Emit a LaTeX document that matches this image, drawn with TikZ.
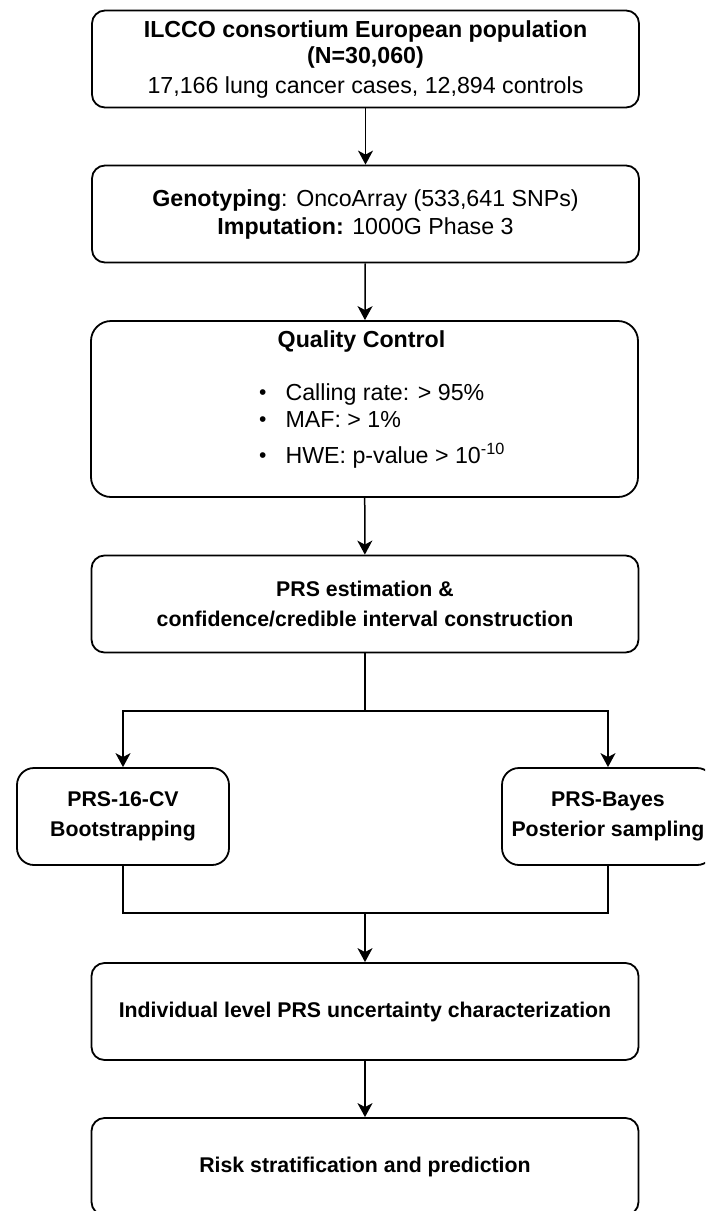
\documentclass[tikz,border=0pt]{standalone}
\usepackage{fontspec}
\setmainfont{Liberation Sans}
\usetikzlibrary{arrows.meta}

\newcommand{\dotitem}{\raisebox{0.5pt}{\fontsize{21}{21}\selectfont\textbullet}}

\tikzset{
  box/.style={draw, line width=1.8pt, rounded corners=13pt, minimum width=547pt,
    minimum height=97pt, align=center, inner sep=0pt},
  sidebox/.style={box, minimum width=212pt, rounded corners=17pt},
  big/.style={font=\fontsize{23.2}{27}\selectfont},
  bigbold/.style={font=\fontsize{23.2}{27}\selectfont\bfseries},
  mid/.style={font=\fontsize{21.3}{30}\selectfont\bfseries},
  arr/.style={-{Stealth[length=14pt,width=15pt,inset=4pt]}, line width=1.5pt},
  link/.style={line width=1.5pt},
}

\begin{document}
\begin{tikzpicture}[x=1pt, y=-1pt]
  \useasboundingbox (0,0) rectangle (705,1211);
  \clip (0,0) rectangle (705,1211);

  % main column
  \node[box, font=\fontsize{23.2}{26}\selectfont] (cohort) at (365.5,59)
    {\textbf{ILCCO consortium European population}\\
     \textbf{(N=30,060)}\\[4pt]
     17,166 lung cancer cases, 12,894 controls};
  \node[box, font=\fontsize{23.2}{28}\selectfont] (geno) at (365.5,214)
    {\textbf{Genotyping}: OncoArray (533,641 SNPs)\\
     \textbf{Imputation:} 1000G Phase 3};
  \node[box, minimum height=176pt, rounded corners=20pt] (qc) at (364.5,409) {};
  \node[bigbold, anchor=base] (qctitle) at (361.5,347) {Quality Control};
  \node[big, anchor=base west, inner sep=0pt] (qclist) at (259,400)
    {\begin{tabular}[t]{@{}l@{\hspace{19pt}}l@{}}
       \dotitem & Calling rate: > 95\% \\
       \dotitem & MAF: > 1\% \\[8pt]
       \dotitem & HWE: p-value > 10\textsuperscript{-10}
     \end{tabular}};
  \node[box, mid] (prs) at (365,604)
    {PRS estimation \&\\ confidence/credible interval construction};

  % two branches
  \node[sidebox, mid] (cv) at (123,816.5) {PRS-16-CV\\ Bootstrapping};
  \node[sidebox, mid] (bayes) at (608,816.5) {PRS-Bayes\\ Posterior sampling};

  \node[box, mid] (unc) at (365,1011.5)
    {Individual level PRS uncertainty characterization};
  \node[box, mid] (risk) at (365,1166.5) {Risk stratification and prediction};

  % connectors
  \coordinate (split) at (365,711);
  \coordinate (merge) at (365,913);
  \draw[arr] (cohort) -- (geno);
  \draw[arr] (geno) -- (qc);
  \draw[arr] (qc) -- (prs);
  \draw[link] (prs) -- (split);
  \draw[arr] (split) -| (cv);
  \draw[arr] (split) -| (bayes);
  \draw[link] (cv) |- (merge) -| (bayes);
  \draw[arr] (merge) -- (unc);
  \draw[arr] (unc) -- (risk);
\end{tikzpicture}
\end{document}
